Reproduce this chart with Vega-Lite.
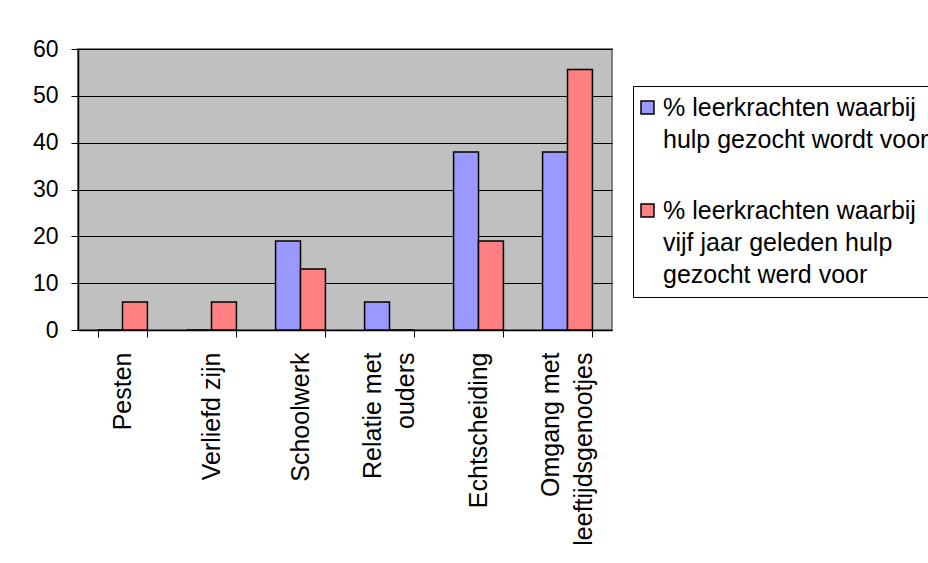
{
  "$schema": "https://vega.github.io/schema/vega-lite/v6.json",
  "autosize": "none",
  "width": 534,
  "height": 281,
  "padding": {"left": 78, "top": 49, "right": 316, "bottom": 233},
  "background": "white",
  "data": {
    "values": [
      {"categorie": "Pesten", "reeks": "nu", "waarde": 0},
      {"categorie": "Pesten", "reeks": "vijf jaar geleden", "waarde": 6},
      {"categorie": "Verliefd zijn", "reeks": "nu", "waarde": 0},
      {"categorie": "Verliefd zijn", "reeks": "vijf jaar geleden", "waarde": 6},
      {"categorie": "Schoolwerk", "reeks": "nu", "waarde": 19},
      {"categorie": "Schoolwerk", "reeks": "vijf jaar geleden", "waarde": 13},
      {"categorie": "Relatie met ouders", "reeks": "nu", "waarde": 6},
      {"categorie": "Relatie met ouders", "reeks": "vijf jaar geleden", "waarde": 0},
      {"categorie": "Echtscheiding", "reeks": "nu", "waarde": 38},
      {"categorie": "Echtscheiding", "reeks": "vijf jaar geleden", "waarde": 19},
      {"categorie": "Omgang met leeftijdsgenootjes", "reeks": "nu", "waarde": 38},
      {"categorie": "Omgang met leeftijdsgenootjes", "reeks": "vijf jaar geleden", "waarde": 55.6}
    ]
  },
  "mark": {"type": "bar", "stroke": "black", "strokeWidth": 1.5},
  "encoding": {
    "x": {
      "field": "categorie",
      "type": "nominal",
      "sort": null,
      "title": null,
      "scale": {"paddingInner": 0.44, "paddingOuter": 0.22},
      "axis": {
        "labelAngle": -90,
        "labelAlign": "right",
        "labelBaseline": "middle",
        "labelFontSize": 25,
        "labelLineHeight": 33,
        "labelPadding": 15,
        "labelLimit": 400,
        "labelColor": "black",
        "labelFont": "Liberation Sans",
        "labelOffset": {
          "condition": {"test": "datum.value == 'Relatie met ouders' || datum.value == 'Omgang met leeftijdsgenootjes'", "value": -17},
          "value": 0
        },
        "tickBand": "extent",
        "tickSize": 7,
        "tickColor": "black",
        "domainColor": "black",
        "domainWidth": 1.5,
        "labelExpr": "datum.value == 'Relatie met ouders' ? ['Relatie met', 'ouders'] : datum.value == 'Omgang met leeftijdsgenootjes' ? ['Omgang met', 'leeftijdsgenootjes'] : datum.value"
      }
    },
    "xOffset": {"field": "reeks", "type": "nominal", "scale": {"paddingInner": 0, "paddingOuter": 0}},
    "y": {
      "field": "waarde",
      "type": "quantitative",
      "title": null,
      "scale": {"domain": [0, 60], "nice": false},
      "axis": {
        "values": [0, 10, 20, 30, 40, 50, 60],
        "labelFontSize": 23,
        "labelFont": "Liberation Sans",
        "labelColor": "black",
        "labelPadding": 13,
        "tickSize": 7,
        "tickColor": "black",
        "domainColor": "black",
        "domainWidth": 1.5,
        "grid": true,
        "gridColor": "black",
        "gridWidth": 1
      }
    },
    "color": {
      "field": "reeks",
      "type": "nominal",
      "scale": {"domain": ["nu", "vijf jaar geleden"], "range": ["#9999ff", "#ff8080"]},
      "legend": {
        "title": null,
        "orient": "none",
        "legendX": 555,
        "legendY": 37,
        "strokeColor": "black",
        "fillColor": "white",
        "padding": 9,
        "symbolType": "square",
        "symbolSize": 169,
        "symbolStrokeColor": "black",
        "symbolStrokeWidth": 1.5,
        "symbolOpacity": 1,
        "symbolOffset": -7,
        "labelFontSize": 25,
        "labelFont": "Liberation Sans",
        "labelColor": "black",
        "labelBaseline": "top",
        "labelOffset": 3,
        "labelLimit": 500,
        "rowPadding": 45,
        "labelExpr": "datum.value == 'nu' ? ['% leerkrachten waarbij', 'hulp gezocht wordt voor'] : ['% leerkrachten waarbij', 'vijf jaar geleden hulp', 'gezocht werd voor']",
        "encode": {"labels": {"update": {"lineHeight": {"value": 32}, "dy": {"value": -12}}}}
      }
    }
  },
  "config": {
    "view": {"fill": "#c0c0c0", "stroke": "#808080", "strokeWidth": 2},
    "font": "Liberation Sans"
  }
}
